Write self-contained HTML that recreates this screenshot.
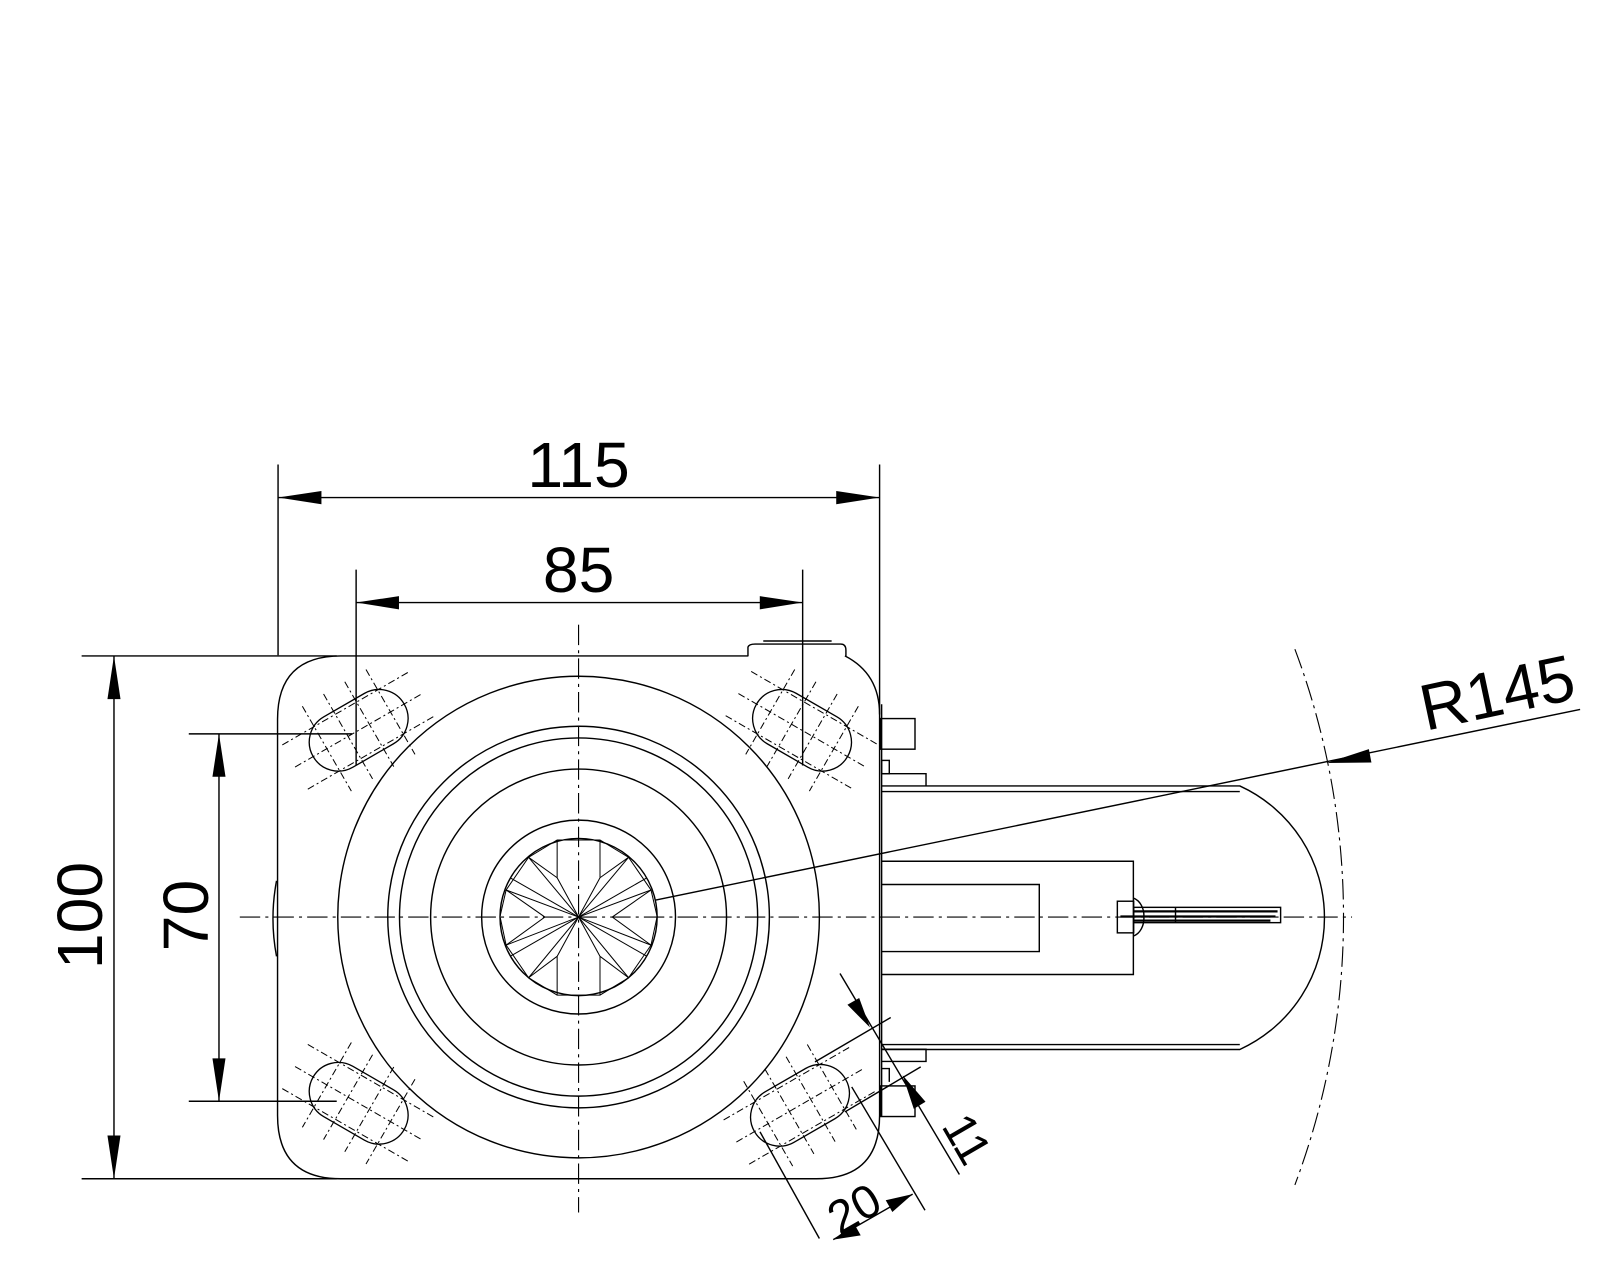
<!DOCTYPE html>
<html><head><meta charset="utf-8"><style>html,body{margin:0;padding:0;background:#fff}svg{display:block}</style></head>
<body>
<svg width="1600" height="1280" viewBox="0 0 1568 1254" xmlns="http://www.w3.org/2000/svg">
<defs>
<g id="slot">
<rect x="-51.5" y="-28.5" width="103" height="57" rx="28.5" ry="28.5" fill="none" stroke="#000" stroke-width="1.3"/>
<g stroke="#000" stroke-width="1" stroke-dasharray="7 3 2 3" fill="none">
<line x1="-72" y1="-25" x2="72" y2="-25"/><line x1="-72" y1="0" x2="72" y2="0"/><line x1="-72" y1="25" x2="72" y2="25"/>
<line x1="-36" y1="-48" x2="-36" y2="48"/><line x1="-12" y1="-48" x2="-12" y2="48"/><line x1="12" y1="-48" x2="12" y2="48"/><line x1="36" y1="-48" x2="36" y2="48"/>
</g>
</g>
</defs>
<rect width="1568" height="1254" fill="#fff"/>
<g fill="none" stroke="#000" stroke-width="1.4">
<path d="M334,642.6 H733 M828,642.6 Q862,660 862,700 V1093 Q862,1155 800,1155 H334 Q272,1155 272,1093 V704.6 Q272,642.6 334,642.6"/>
<path d="M733,643 V634 Q734,631 740,631 H824 Q829,631 829,637 V643"/>
<line x1="748" y1="628" x2="815" y2="628"/>
<path d="M271,863 Q264,900 271,937"/>
<circle cx="567" cy="898.5" r="236"/>
<circle cx="567" cy="898.5" r="187"/>
<circle cx="567" cy="898.5" r="175.5"/>
<circle cx="567" cy="898.5" r="145"/>
<circle cx="567" cy="898.5" r="95"/>
<circle cx="567" cy="898.5" r="77"/>
<g stroke-width="1">
<polygon points="546,823 588,823 616,840 638,872 644,898 638,926 616,958 588,975 546,975 518,958 496,926 490,898 496,872 518,840"/>
<line x1="546" y1="823" x2="546" y2="860"/><line x1="588" y1="823" x2="588" y2="860"/>
<line x1="546" y1="975" x2="546" y2="937"/><line x1="588" y1="975" x2="588" y2="937"/>
<line x1="567" y1="898.5" x2="546" y2="860"/><line x1="567" y1="898.5" x2="588" y2="860"/>
<line x1="567" y1="898.5" x2="546" y2="937"/><line x1="567" y1="898.5" x2="588" y2="937"/>
<line x1="567" y1="898.5" x2="500" y2="860"/><line x1="567" y1="898.5" x2="634" y2="860"/>
<line x1="567" y1="898.5" x2="500" y2="937"/><line x1="567" y1="898.5" x2="634" y2="937"/>
<line x1="567" y1="898.5" x2="518" y2="840"/><line x1="567" y1="898.5" x2="616" y2="840"/>
<line x1="567" y1="898.5" x2="518" y2="958"/><line x1="567" y1="898.5" x2="616" y2="958"/>
<polyline points="518,840 546,860"/><polyline points="616,840 588,860"/>
<polyline points="518,958 546,937"/><polyline points="616,958 588,937"/>
<polyline points="496,872 534,898.5 496,926"/><polyline points="638,872 600,898.5 638,926"/>
<line x1="567" y1="898.5" x2="496" y2="872"/><line x1="567" y1="898.5" x2="638" y2="872"/>
<line x1="567" y1="898.5" x2="496" y2="926"/><line x1="567" y1="898.5" x2="638" y2="926"/>
</g>
<line x1="864" y1="690" x2="864" y2="1094"/>
<path d="M864,770 H1215 A142,142 0 0 1 1215,1028.3 H864"/>
<line x1="864" y1="775.5" x2="1215" y2="775.5"/>
<line x1="864" y1="1023.5" x2="1215" y2="1023.5"/>
<polyline points="864,843.8 1110.7,843.8 1110.7,954.8 864,954.8"/>
<polyline points="864,866.6 1018.5,866.6 1018.5,932.3 864,932.3"/>
<rect x="863" y="704" width="33.7" height="30"/>
<rect x="864" y="745" width="7.5" height="13"/>
<polyline points="864,758 907.5,758 907.5,770"/>
<polyline points="864,1028 907.5,1028 907.5,1040 864,1040"/>
<polyline points="864,1047 871.5,1047 871.5,1060"/>
<rect x="863" y="1064" width="33.7" height="30"/>
<rect x="1095" y="883" width="16" height="31"/>
<path d="M1111,880 A14,18 0 0 1 1121,898.5 A14,18 0 0 1 1111,917"/>
<rect x="1111" y="889" width="144" height="15"/>
<g stroke-width="2.2"><line x1="1111" y1="893" x2="1252" y2="893"/><line x1="1098" y1="898" x2="1250" y2="898"/><line x1="1111" y1="902" x2="1245" y2="902"/></g>
<line x1="1152" y1="889" x2="1152" y2="904"/>
</g>
<use href="#slot" transform="translate(351.5,715.5) rotate(-30)"/>
<use href="#slot" transform="translate(786,715.5) rotate(30)"/>
<use href="#slot" transform="translate(351.5,1081) rotate(30)"/>
<use href="#slot" transform="translate(784,1083) rotate(-30)"/>
<g stroke="#000" stroke-width="1.1" fill="none" stroke-dasharray="20 5 3 5">
<line x1="235" y1="898.5" x2="1325" y2="898.5"/>
<line x1="567" y1="612" x2="567" y2="1188"/>
<path d="M1269,636 A747,747 0 0 1 1269,1161"/>
</g>
<g stroke="#000" stroke-width="1.4" fill="none">
<line x1="272.5" y1="455" x2="272.5" y2="642"/>
<line x1="862" y1="455" x2="862" y2="700"/>
<line x1="272.5" y1="487.4" x2="862" y2="487.4"/>
<line x1="349" y1="558" x2="349" y2="750"/>
<line x1="786.6" y1="558" x2="786.6" y2="750"/>
<line x1="349" y1="590.3" x2="786.6" y2="590.3"/>
<line x1="80" y1="642.6" x2="330" y2="642.6"/>
<line x1="80" y1="1155" x2="330" y2="1155"/>
<line x1="111.7" y1="642.6" x2="111.7" y2="1155"/>
<line x1="185" y1="719" x2="345" y2="719"/>
<line x1="185" y1="1079" x2="330" y2="1079"/>
<line x1="214.6" y1="719" x2="214.6" y2="1079"/>
<line x1="642" y1="882" x2="1548.5" y2="695"/>
<line x1="823.2" y1="953.8" x2="940.2" y2="1150.8"/>
<line x1="798.7" y1="1040.4" x2="872.9" y2="997"/>
<line x1="828" y1="1089.5" x2="902.3" y2="1045.3"/>
<line x1="744.8" y1="1109" x2="803" y2="1213.5"/>
<line x1="834.7" y1="1065" x2="906.5" y2="1185.8"/>
<line x1="816.6" y1="1214.6" x2="894.4" y2="1170"/>
</g>
<g fill="#000">
<polygon points="272.5,487.4 315,481 315,494"/>
<polygon points="862,487.4 819.5,481 819.5,494"/>
<polygon points="349,590.3 391,584 391,597"/>
<polygon points="786.6,590.3 744.6,584 744.6,597"/>
<polygon points="111.7,642.6 105.3,685 118.1,685"/>
<polygon points="111.7,1155 105.3,1112.6 118.1,1112.6"/>
<polygon points="214.6,719 208.2,761 221,761"/>
<polygon points="214.6,1079 208.2,1037 221,1037"/>
<polygon points="1300,747.5 1341.5,734 1344,747"/>
<polygon points="852.6,1006.8 830.5,984.5 842,977.8"/>
<polygon points="884.6,1053.5 895.5,1086.5 907,1079.5"/>
<polygon points="816.6,1214.6 837,1199 843.5,1210.5"/>
<polygon points="894.4,1170 868,1176 874.5,1187.5"/>
</g>
<g font-family="Liberation Sans, sans-serif" font-size="63" fill="#000">
<text x="567" y="477" text-anchor="middle">115</text>
<text x="567" y="580" text-anchor="middle">85</text>
<text transform="translate(100,897) rotate(-90)" text-anchor="middle">100</text>
<text transform="translate(204,897) rotate(-90)" text-anchor="middle">70</text>
<text transform="translate(1397,716) rotate(-12)" font-size="64">R145</text>
</g>
<g font-family="Liberation Sans, sans-serif" font-size="46" fill="#000">
<text transform="translate(845,1198) rotate(-30)" text-anchor="middle">20</text>
<text transform="translate(934,1124) rotate(60)" text-anchor="middle">11</text>
</g>
</svg>
</body></html>
